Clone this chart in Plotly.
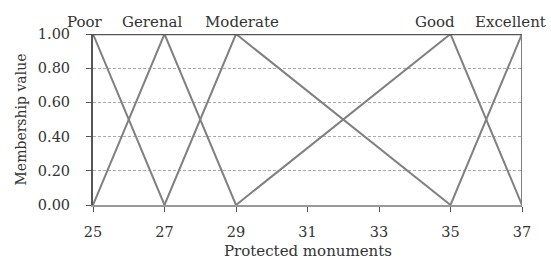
import plotly.graph_objects as go

# Fuzzy membership sets (breakpoints and membership values)
set_names = ["Poor", "Gerenal", "Moderate", "Good", "Excellent"]
poor_x = [25, 27]
poor_y = [1, 0]
gerenal_x = [25, 27, 29]
gerenal_y = [0, 1, 0]
moderate_x = [27, 29, 35]
moderate_y = [0, 1, 0]
good_x = [29, 35, 37]
good_y = [0, 1, 0]
excellent_x = [35, 37, 37]
excellent_y = [0, 1, 0]
peaks = [25, 27, 29, 35, 37]

x_ticks = [25, 27, 29, 31, 33, 35, 37]
y_ticks = [0, 0.2, 0.4, 0.6, 0.8, 1.0]

FONT = "DejaVu Serif"
LINE = "#808080"
TXT = "#333"

fig = go.Figure()
for xs, ys in [(poor_x, poor_y), (gerenal_x, gerenal_y), (moderate_x, moderate_y),
               (good_x, good_y), (excellent_x, excellent_y)]:
    fig.add_trace(go.Scatter(x=xs, y=ys, mode="lines",
                             line=dict(color=LINE, width=2), showlegend=False,
                             hoverinfo="skip"))

shifts = [-8, -12, 6, -16, -12]
for name, px, sh in zip(set_names, peaks, shifts):
    fig.add_annotation(x=px, y=1, xref="x", yref="paper", text=name,
                       showarrow=False, yanchor="bottom", yshift=1, xshift=sh,
                       font=dict(family=FONT, size=15, color=TXT))

# x-axis title placed below tick labels
fig.add_annotation(x=0.5, y=0, xref="paper", yref="paper", text="Protected monuments",
                   showarrow=False, yanchor="middle", yshift=-46,
                   font=dict(family=FONT, size=15, color=TXT))

# top frame line
fig.add_shape(type="line", xref="paper", yref="y", x0=0, x1=1, y0=1, y1=1,
              line=dict(color="#555", width=2.5))

fig.update_layout(
    width=551, height=260,
    margin=dict(l=93, r=29, t=34, b=55, autoexpand=False),
    plot_bgcolor="white", paper_bgcolor="white",
    font=dict(family=FONT, size=14.5, color=TXT),
    xaxis=dict(range=[25, 37], tickvals=x_ticks, ticktext=[str(v) for v in x_ticks],
               showgrid=False, zeroline=False, showline=True, linecolor="#999",
               linewidth=2, ticks="outside", ticklen=5, tickcolor="#555",
               ticklabelstandoff=8,
               tickfont=dict(size=14.5)),
    yaxis=dict(range=[0, 1], tickvals=y_ticks, tickformat=".2f",
               showgrid=True, gridcolor="#aaa", griddash="3px,2px", gridwidth=1,
               zeroline=False, showline=True, linecolor="#555", linewidth=2,
               ticks="outside", ticklen=5, tickcolor="#555",
               ticklabelstandoff=13,
               title=dict(text="Membership value", font=dict(size=14), standoff=8),
               tickfont=dict(size=14.5)),
)

fig.write_html("out.html", config={"displayModeBar": False},
               post_script="document.body.style.margin='0';")
